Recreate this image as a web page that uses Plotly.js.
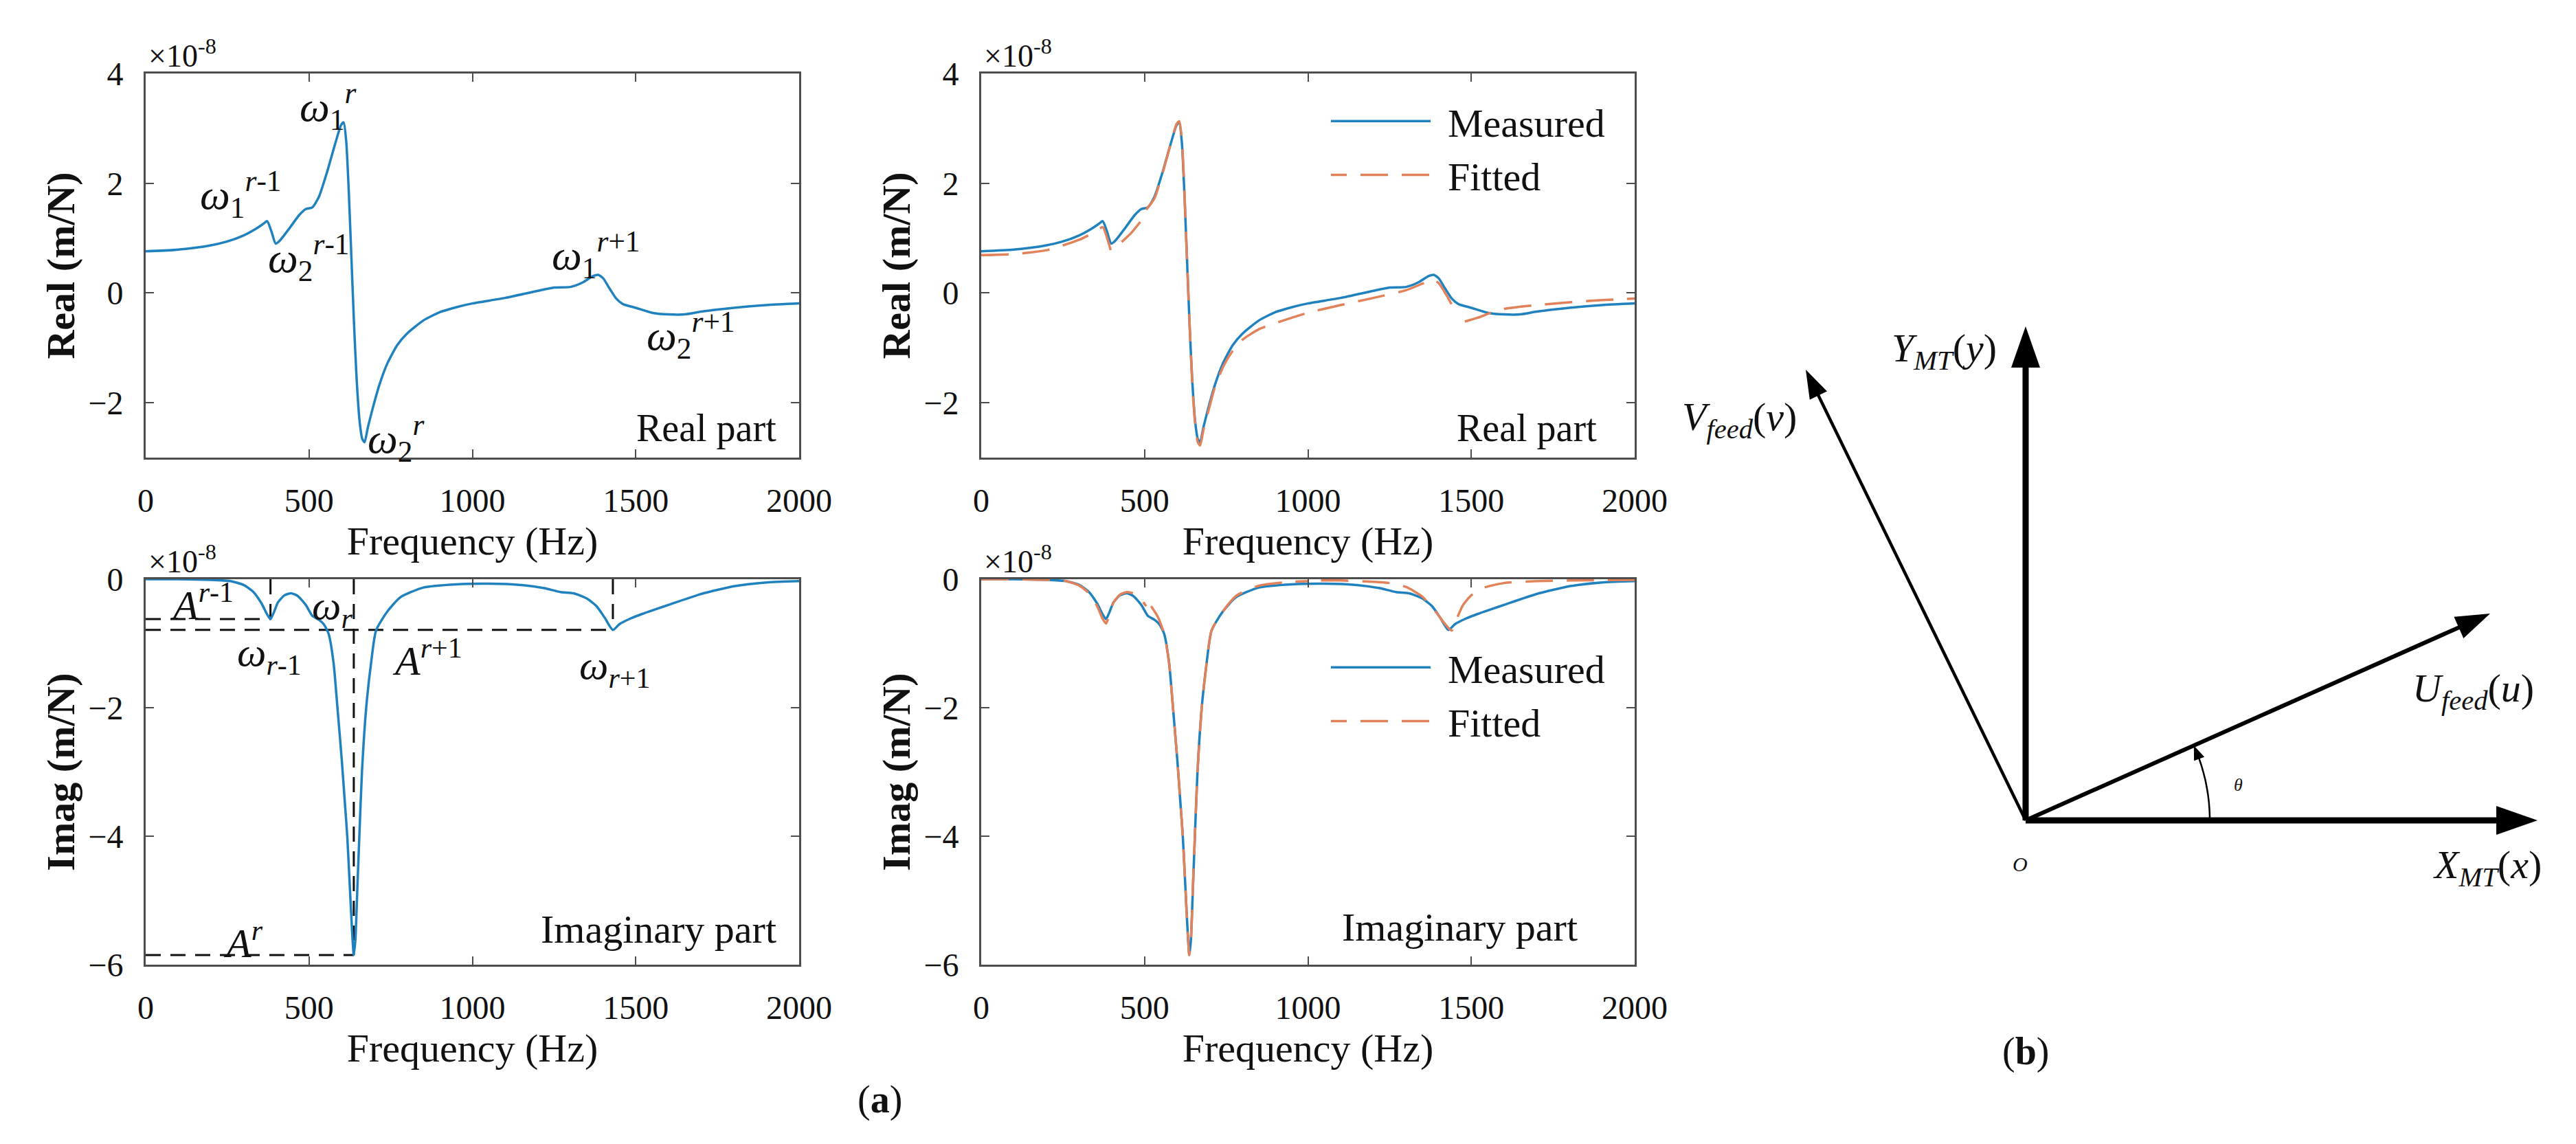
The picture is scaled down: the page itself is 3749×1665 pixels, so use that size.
<!DOCTYPE html>
<html><head><meta charset="utf-8">
<script src="https://cdn.plot.ly/plotly-3.0.1.min.js"></script>
<style>html,body{margin:0;padding:0;background:#fff;} #chart{width:3749px;height:1665px;}</style>
</head><body><div id="chart"></div>
<script>
// ---------------- DATA (values in units of 1e-8 m/N) ----------------
const freqReal = [0,100,200,250,300,340,360,372,385,398,410,440,470,490,510,530,555,580,598,606,614,622,630,638,646,655,663,670,680,695,715,740,770,800,850,900,950,1000,1100,1200,1250,1300,1340,1370,1385,1400,1420,1440,1460,1500,1550,1600,1650,1700,1800,1900,2000];
const realMeasured = [0.76,0.79,0.87,0.94,1.05,1.18,1.26,1.31,1.12,0.90,0.95,1.18,1.42,1.53,1.56,1.75,2.20,2.72,3.06,3.11,2.75,1.80,0.60,-0.60,-1.60,-2.35,-2.66,-2.72,-2.45,-2.10,-1.68,-1.28,-0.95,-0.74,-0.50,-0.35,-0.26,-0.19,-0.09,0.04,0.10,0.11,0.20,0.31,0.33,0.27,0.08,-0.10,-0.20,-0.27,-0.36,-0.39,-0.39,-0.34,-0.27,-0.22,-0.19];

const fitFreqReal = [0,100,200,300,350,372,388,400,null,430,460,490,null,505,530,555,580,598,606,614,622,630,638,646,655,663,670,680,695,715,740,770,800,850,900,1000,1100,1200,1300,1350,1380,1400,1425,1450,null,1480,1520,1560,1600,1700,1800,1900,2000];
const realFitted = [0.69,0.71,0.78,0.97,1.12,1.20,0.95,0.70,null,0.93,1.10,1.32,null,1.52,1.72,2.18,2.72,3.08,3.13,2.80,1.85,0.60,-0.60,-1.65,-2.40,-2.72,-2.78,-2.50,-2.16,-1.72,-1.35,-1.05,-0.85,-0.66,-0.55,-0.36,-0.22,-0.09,0.05,0.17,0.25,0.18,-0.05,-0.32,null,-0.52,-0.45,-0.36,-0.29,-0.22,-0.17,-0.13,-0.10];

const freqImag = [0,100,200,260,300,330,355,372,382,392,405,425,445,465,490,510,530,545,560,575,587,600,610,617,625,632,637,642,648,654,662,675,690,705,740,780,850,950,1050,1150,1220,1270,1310,1350,1380,1405,1430,1450,1480,1520,1560,1600,1700,1800,1900,2000];
const imagMeasured = [0,0,-0.01,-0.03,-0.09,-0.20,-0.38,-0.55,-0.62,-0.52,-0.36,-0.25,-0.22,-0.26,-0.40,-0.57,-0.63,-0.70,-0.85,-1.30,-2.00,-2.80,-3.50,-4.00,-4.80,-5.50,-5.85,-5.60,-4.80,-4.00,-3.00,-2.00,-1.30,-0.80,-0.50,-0.28,-0.13,-0.08,-0.07,-0.09,-0.14,-0.20,-0.22,-0.30,-0.42,-0.60,-0.79,-0.70,-0.62,-0.54,-0.47,-0.40,-0.23,-0.11,-0.05,-0.03];

const fitFreqImag = [0,100,200,260,300,330,355,372,382,392,405,425,445,465,490,505,null,520,540,560,575,587,600,610,617,625,632,637,642,648,654,662,675,690,705,740,780,850,950,1000,null,1040,1100,1200,1250,1300,1350,1390,1420,1440,1455,1475,1500,1540,1600,1700,1800,2000];
const imagFitted = [0,0,-0.01,-0.03,-0.10,-0.22,-0.42,-0.62,-0.69,-0.55,-0.36,-0.24,-0.20,-0.22,-0.32,-0.42,null,-0.42,-0.58,-0.85,-1.30,-2.00,-2.80,-3.50,-4.00,-4.80,-5.50,-5.85,-5.60,-4.80,-4.00,-3.00,-2.00,-1.30,-0.80,-0.50,-0.26,-0.10,-0.04,-0.03,null,-0.02,-0.02,-0.04,-0.06,-0.12,-0.27,-0.50,-0.70,-0.80,-0.62,-0.40,-0.25,-0.13,-0.06,-0.03,-0.02,-0.01];

// resonance reference markers (bottom-left panel)
const peakFreq = [382, 637, 1430];
const peakAmp = [-0.62, -5.85, -0.79];

const xTickVals = [0, 500, 1000, 1500, 2000];
const realTickVals = [-2, 0, 2, 4];
const imagTickVals = [-6, -4, -2, 0];

// diagram (b): coordinate-system vectors, angle in degrees, length in px
const vecNames = ['X', 'Y', 'U', 'V'];
const vecAngle = [0, 90, 24, 116];
const vecLength = [745, 719, 740, 730];
const thetaAngle = 24;

// ---------------- STYLE / LAYOUT ----------------
const W = 3749, H = 1665;
const FONT = 'Liberation Serif, Times New Roman, serif';
const BLUE = '#1f82bf', ORANGE = '#E2825A';
const px = v => v / W, py = v => 1 - v / H;

const X1 = [212, 1163], X2 = [1428, 2379];
const YT = [107, 666], YB = [843, 1404];

function xax(dom, anchor) {
  return {domain: [px(dom[0]), px(dom[1])], anchor: anchor, range: [0, 2000],
    tickvals: xTickVals, ticks: 'inside', ticklen: 12, tickwidth: 2, tickcolor: '#4d4d4d',
    showline: true, linecolor: '#4d4d4d', linewidth: 3, mirror: 'ticks',
    showgrid: false, zeroline: false, ticklabelstandoff: 18,
    tickfont: {family: FONT, size: 48, color: '#111'},
    title: {text: 'Frequency (Hz)', font: {family: FONT, size: 58, color: '#111'}, standoff: 2}};
}
function yax(dom, anchor, range, tv, title) {
  return {domain: [py(dom[1]), py(dom[0])], anchor: anchor, range: range,
    tickvals: tv, ticks: 'inside', ticklen: 12, tickwidth: 2, tickcolor: '#4d4d4d',
    showline: true, linecolor: '#4d4d4d', linewidth: 3, mirror: 'ticks',
    showgrid: false, zeroline: false, ticklabelstandoff: 20,
    tickfont: {family: FONT, size: 48, color: '#111'},
    title: {text: '<b>' + title + '</b>', font: {family: FONT, size: 58, color: '#111'}, standoff: 2}};
}

const lineM = {color: BLUE, width: 3.5, shape: 'spline', smoothing: 0.6};
const lineF = {color: ORANGE, width: 3.5, shape: 'spline', smoothing: 0.6, dash: '40px,20px'};

// reference dashed lines from peak arrays
const refX = [], refY = [];
peakFreq.forEach((f, i) => {
  refX.push(0, f, null, f, f, null);
  refY.push(peakAmp[i], peakAmp[i], null, 0, peakAmp[i], null);
});

const traces = [
  {x: freqReal, y: realMeasured, xaxis: 'x', yaxis: 'y', mode: 'lines', line: lineM, showlegend: false, name: 'Measured'},
  {x: freqReal, y: realMeasured, xaxis: 'x2', yaxis: 'y2', mode: 'lines', line: lineM, name: 'Measured', legend: 'legend'},
  {x: fitFreqReal, y: realFitted, xaxis: 'x2', yaxis: 'y2', mode: 'lines', line: lineF, name: 'Fitted', legend: 'legend', connectgaps: false},
  {x: refX, y: refY, xaxis: 'x3', yaxis: 'y3', mode: 'lines', line: {color: '#111', width: 3, dash: '22px,14px'}, showlegend: false, connectgaps: false, hoverinfo: 'skip'},
  {x: freqImag, y: imagMeasured, xaxis: 'x3', yaxis: 'y3', mode: 'lines', line: lineM, showlegend: false, name: 'Measured'},
  {x: freqImag, y: imagMeasured, xaxis: 'x4', yaxis: 'y4', mode: 'lines', line: lineM, name: 'Measured', legend: 'legend2'},
  {x: fitFreqImag, y: imagFitted, xaxis: 'x4', yaxis: 'y4', mode: 'lines', line: lineF, name: 'Fitted', legend: 'legend2', connectgaps: false}
];

// ---------- diagram shapes ----------
const shapes = [];
const headLen = [60, 60, 50, 42], headHalf = [21, 21, 17, 14], shaftW = [9, 9, 6, 4.5];
vecNames.forEach((n, i) => {
  const a = vecAngle[i] * Math.PI / 180, c = Math.cos(a), s = Math.sin(a), L = vecLength[i];
  const bx = (L - headLen[i]) * c, by = (L - headLen[i]) * s;
  shapes.push({type: 'line', xref: 'x5', yref: 'y5', x0: 0, y0: 0, x1: bx + 4 * c, y1: by + 4 * s,
    line: {color: '#000', width: shaftW[i]}});
  const tx = L * c, ty = L * s, pxp = -s * headHalf[i], pyp = c * headHalf[i];
  shapes.push({type: 'path', xref: 'x5', yref: 'y5',
    path: `M${tx},${ty} L${bx + pxp},${by + pyp} L${bx - pxp},${by - pyp} Z`,
    fillcolor: '#000', line: {width: 0}});
});
// theta arc
const R = 268, arcPts = [];
for (let k = 0; k <= 24; k++) {
  const a = (thetaAngle - 3) * (k / 24) * Math.PI / 180;
  arcPts.push(`${(R * Math.cos(a)).toFixed(1)},${(R * Math.sin(a)).toFixed(1)}`);
}
shapes.push({type: 'path', xref: 'x5', yref: 'y5', path: 'M' + arcPts.join(' L'), line: {color: '#000', width: 2.5}});
{
  const a1 = thetaAngle * Math.PI / 180, a0 = (thetaAngle - 4.5) * Math.PI / 180;
  const tx = R * Math.cos(a1), ty = R * Math.sin(a1);
  const bx = R * Math.cos(a0), by = R * Math.sin(a0);
  const nx = Math.cos(a0) * 8, ny = Math.sin(a0) * 8;
  shapes.push({type: 'path', xref: 'x5', yref: 'y5',
    path: `M${tx},${ty} L${bx + nx},${by + ny} L${bx - nx},${by - ny} Z`, fillcolor: '#000', line: {width: 0}});
}

// ---------- annotations ----------
const tf = (s) => ({family: FONT, size: s, color: '#111'});
const ann = [];
function lab(xr, yr, x, y, text, size, xa) {
  ann.push({xref: xr, yref: yr, x: x, y: y, text: text, showarrow: false, font: tf(size), xanchor: xa || 'center', yanchor: 'middle'});
}
// x10^-8 multipliers
[[X1, YT], [X2, YT], [X1, YB], [X2, YB]].forEach(([xd, yd]) => {
  ann.push({xref: 'paper', yref: 'paper', x: px(xd[0] + 2), y: py(yd[0]), xanchor: 'left', yanchor: 'bottom', yshift: -2,
    text: '×10<sup>-8</sup>', showarrow: false, font: tf(46)});
});
// top-left labels
lab('x', 'y', 559, 3.40, '<i>ω</i><sub>1</sub><sup><i>r</i></sup>', 62);
lab('x', 'y', 292, 1.80, '<i>ω</i><sub>1</sub><sup><i>r</i>-1</sup>', 62);
lab('x', 'y', 500, 0.65, '<i>ω</i><sub>2</sub><sup><i>r</i>-1</sup>', 62);
lab('x', 'y', 1378, 0.70, '<i>ω</i><sub>1</sub><sup><i>r</i>+1</sup>', 62);
lab('x', 'y', 1668, -0.76, '<i>ω</i><sub>2</sub><sup><i>r</i>+1</sup>', 62);
lab('x', 'y', 767, -2.64, '<i>ω</i><sub>2</sub><sup><i>r</i></sup>', 62);
lab('x', 'y', 1935, -2.46, 'Real part', 56, 'right');
lab('x2', 'y2', 1889, -2.46, 'Real part', 56, 'right');
// bottom-left labels
lab('x3', 'y3', 172, -0.36, '<i>A</i><sup><i>r</i>-1</sup>', 60);
lab('x3', 'y3', 572, -0.45, '<i>ω</i><sub><i>r</i></sub>', 60);
lab('x3', 'y3', 378, -1.18, '<i>ω</i><sub><i>r</i>-1</sub>', 60);
lab('x3', 'y3', 862, -1.22, '<i>A</i><sup><i>r</i>+1</sup>', 60);
lab('x3', 'y3', 1435, -1.38, '<i>ω</i><sub><i>r</i>+1</sub>', 60);
lab('x3', 'y3', 298, -5.62, '<i>A</i><sup><i>r</i></sup>', 60);
lab('x3', 'y3', 1935, -5.45, 'Imaginary part', 58, 'right');
lab('x4', 'y4', 1829, -5.42, 'Imaginary part', 58, 'right');
// diagram labels
lab('x5', 'y5', -119, 684, '<i>Y</i><sub><i>MT</i></sub>(<i>y</i>)', 58);
lab('x5', 'y5', -417, 584, '<i>V</i><sub><i>feed</i></sub>(<i>v</i>)', 58);
lab('x5', 'y5', 651, 189, '<i>U</i><sub><i>feed</i></sub>(<i>u</i>)', 58);
lab('x5', 'y5', 672, -68, '<i>X</i><sub><i>MT</i></sub>(<i>x</i>)', 58);
lab('x5', 'y5', -8, -63, '<i>O</i>', 30);
lab('x5', 'y5', 309, 52, '<i>θ</i>', 26);
// panel labels
lab('paper', 'paper', px(1280), py(1600), '(<b>a</b>)', 56);
lab('paper', 'paper', px(2948), py(1530), '(<b>b</b>)', 56);

const legendCommon = {xanchor: 'left', yanchor: 'top', bgcolor: 'rgba(0,0,0,0)', borderwidth: 0,
  font: {family: FONT, size: 58, color: '#111'}, itemwidth: 160, tracegroupgap: 0};

const layout = {
  width: W, height: H, margin: {l: 0, r: 0, t: 0, b: 0},
  paper_bgcolor: '#fff', plot_bgcolor: '#fff', font: {family: FONT},
  xaxis: xax(X1, 'y'), yaxis: yax(YT, 'x', [-3, 4], realTickVals, 'Real (m/N)'),
  xaxis2: xax(X2, 'y2'), yaxis2: yax(YT, 'x2', [-3, 4], realTickVals, 'Real (m/N)'),
  xaxis3: xax(X1, 'y3'), yaxis3: yax(YB, 'x3', [-6, 0], imagTickVals, 'Imag (m/N)'),
  xaxis4: xax(X2, 'y4'), yaxis4: yax(YB, 'x4', [-6, 0], imagTickVals, 'Imag (m/N)'),
  xaxis5: {domain: [px(2400), 1], anchor: 'y5', range: [-548, 801], visible: false, fixedrange: true},
  yaxis5: {domain: [py(1400), py(350)], anchor: 'x5', range: [-206, 844], visible: false, fixedrange: true},
  legend: Object.assign({x: px(1937), y: py(132)}, legendCommon),
  legend2: Object.assign({x: px(1937), y: py(927)}, legendCommon),
  shapes: shapes, annotations: ann, showlegend: true
};

Plotly.newPlot('chart', traces, layout, {displayModeBar: false}).then(gd => {
  // lengthen the legend line samples to match the long MATLAB legend lines
  gd.querySelectorAll('.legendlines path').forEach(p => p.setAttribute('d', 'M-17,0h162'));
});
</script></body></html>
